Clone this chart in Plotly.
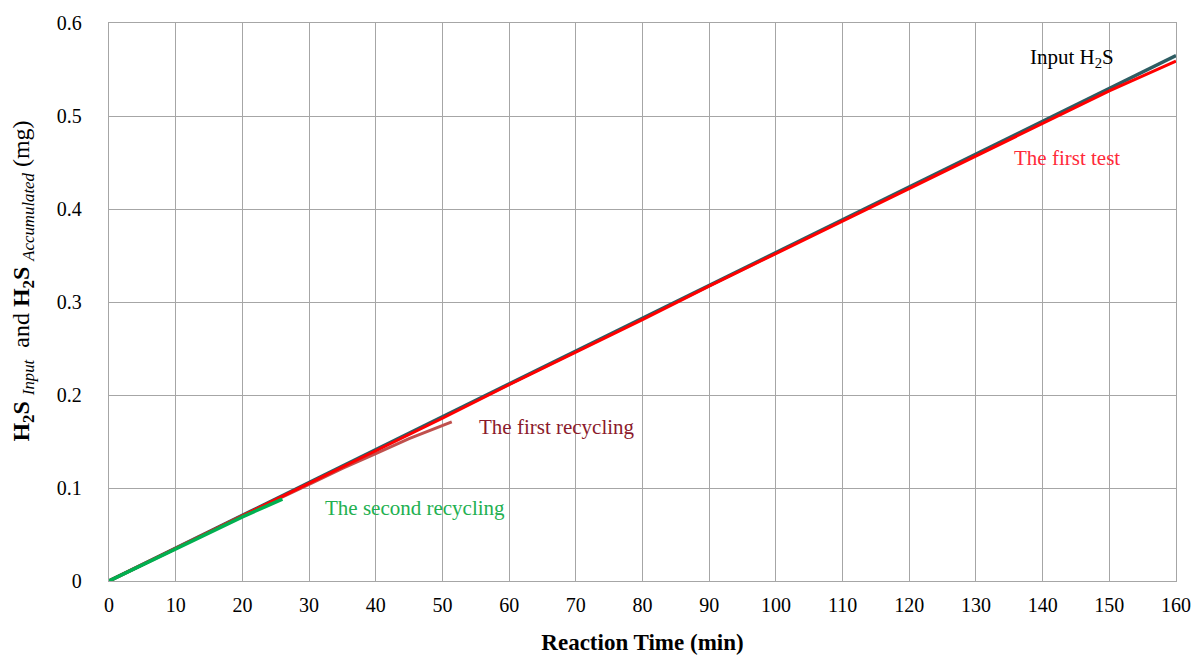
import plotly.graph_objects as go

# Reaction time (min)
t_input = [0, 10, 20, 30, 40, 50, 60, 70, 80, 90, 100, 110, 120, 130, 140, 150, 160]
h2s_input = [0, 0.0353, 0.0706, 0.106, 0.141, 0.177, 0.212, 0.247, 0.282, 0.318,
             0.353, 0.388, 0.424, 0.459, 0.494, 0.530, 0.565]

t_first_test = [0, 10, 20, 30, 40, 50, 60, 70, 80, 90, 100, 110, 120, 130, 140, 150, 160]
h2s_first_test = [0, 0.035, 0.070, 0.105, 0.140, 0.175, 0.211, 0.246, 0.281, 0.317,
                  0.352, 0.387, 0.422, 0.457, 0.492, 0.527, 0.559]

t_first_recycling = [0, 10, 20, 30, 35, 40, 45, 51.4]
h2s_first_recycling = [0, 0.035, 0.070, 0.104, 0.121, 0.137, 0.153, 0.171]

t_second_recycling = [0, 5, 10, 15, 20, 26]
h2s_second_recycling = [0, 0.0175, 0.0350, 0.0522, 0.0690, 0.0880]

x_ticks = list(range(0, 161, 10))
y_ticks = [0, 0.1, 0.2, 0.3, 0.4, 0.5, 0.6]
y_tick_labels = ["0", "0.1", "0.2", "0.3", "0.4", "0.5", "0.6"]

FONT = "Liberation Serif, Times New Roman, serif"

fig = go.Figure()
fig.add_trace(go.Scatter(x=t_input, y=h2s_input, mode="lines",
                         line=dict(color="#2E5D63", width=3.5), name="Input H2S"))
fig.add_trace(go.Scatter(x=t_first_recycling, y=h2s_first_recycling, mode="lines",
                         line=dict(color="#C0504D", width=3), name="The first recycling"))
fig.add_trace(go.Scatter(x=t_first_test, y=h2s_first_test, mode="lines",
                         line=dict(color="#FF0000", width=3), name="The first test"))
fig.add_trace(go.Scatter(x=t_second_recycling, y=h2s_second_recycling, mode="lines",
                         line=dict(color="#00B050", width=3.5), name="The second recycling"))

ann = [
    dict(x=144.4, y=0.562, text="Input H<sub>2</sub>S", color="#000000"),
    dict(x=143.6, y=0.455, text="The first test", color="#FF2A3A"),
    dict(x=67.2, y=0.1656, text="The first recycling", color="#8B1A2B"),
    dict(x=45.9, y=0.0785, text="The second recycling", color="#22B050"),
]
for a in ann:
    fig.add_annotation(x=a["x"], y=a["y"], text=a["text"], showarrow=False,
                       font=dict(family=FONT, size=21, color=a["color"]),
                       xanchor="center", yanchor="middle")

fig.update_layout(
    width=1198, height=655,
    margin=dict(l=109, r=22, t=23, b=74),
    plot_bgcolor="white", paper_bgcolor="white",
    showlegend=False,
    font=dict(family=FONT, size=20, color="#000000"),
)
fig.update_xaxes(range=[0, 160], tickvals=x_ticks, ticks="", showgrid=True,
                 gridcolor="#A6A6A6", gridwidth=1.3, zeroline=False, automargin=False,
                 showline=True, linecolor="#A6A6A6", linewidth=1.3, mirror=True,
                 tickfont=dict(family=FONT, size=20), ticklabelstandoff=6,
                 title=dict(text="<b>Reaction Time (min)</b>", standoff=18,
                            font=dict(family=FONT, size=23)))
fig.update_yaxes(range=[0, 0.6], tickvals=y_ticks, ticktext=y_tick_labels, ticks="",
                 showgrid=True, gridcolor="#A6A6A6", gridwidth=1.3, zeroline=False,
                 automargin=False,
                 showline=True, linecolor="#A6A6A6", linewidth=1.3, mirror=True,
                 tickfont=dict(family=FONT, size=20), ticklabelstandoff=22,
                 title=dict(text="&nbsp;&nbsp;&nbsp;&nbsp;&nbsp;&nbsp;&nbsp;<b>H<sub>2</sub>S</b> <sub><i>Input</i></sub>  and <b>H<sub>2</sub>S</b> <sub><i>Accumulated</i></sub> (mg)",
                            standoff=20, font=dict(family=FONT, size=24)))

fig.write_html("out.html", config={"displayModeBar": False},
               post_script="document.body.style.margin='0';document.body.style.overflow='hidden';")
